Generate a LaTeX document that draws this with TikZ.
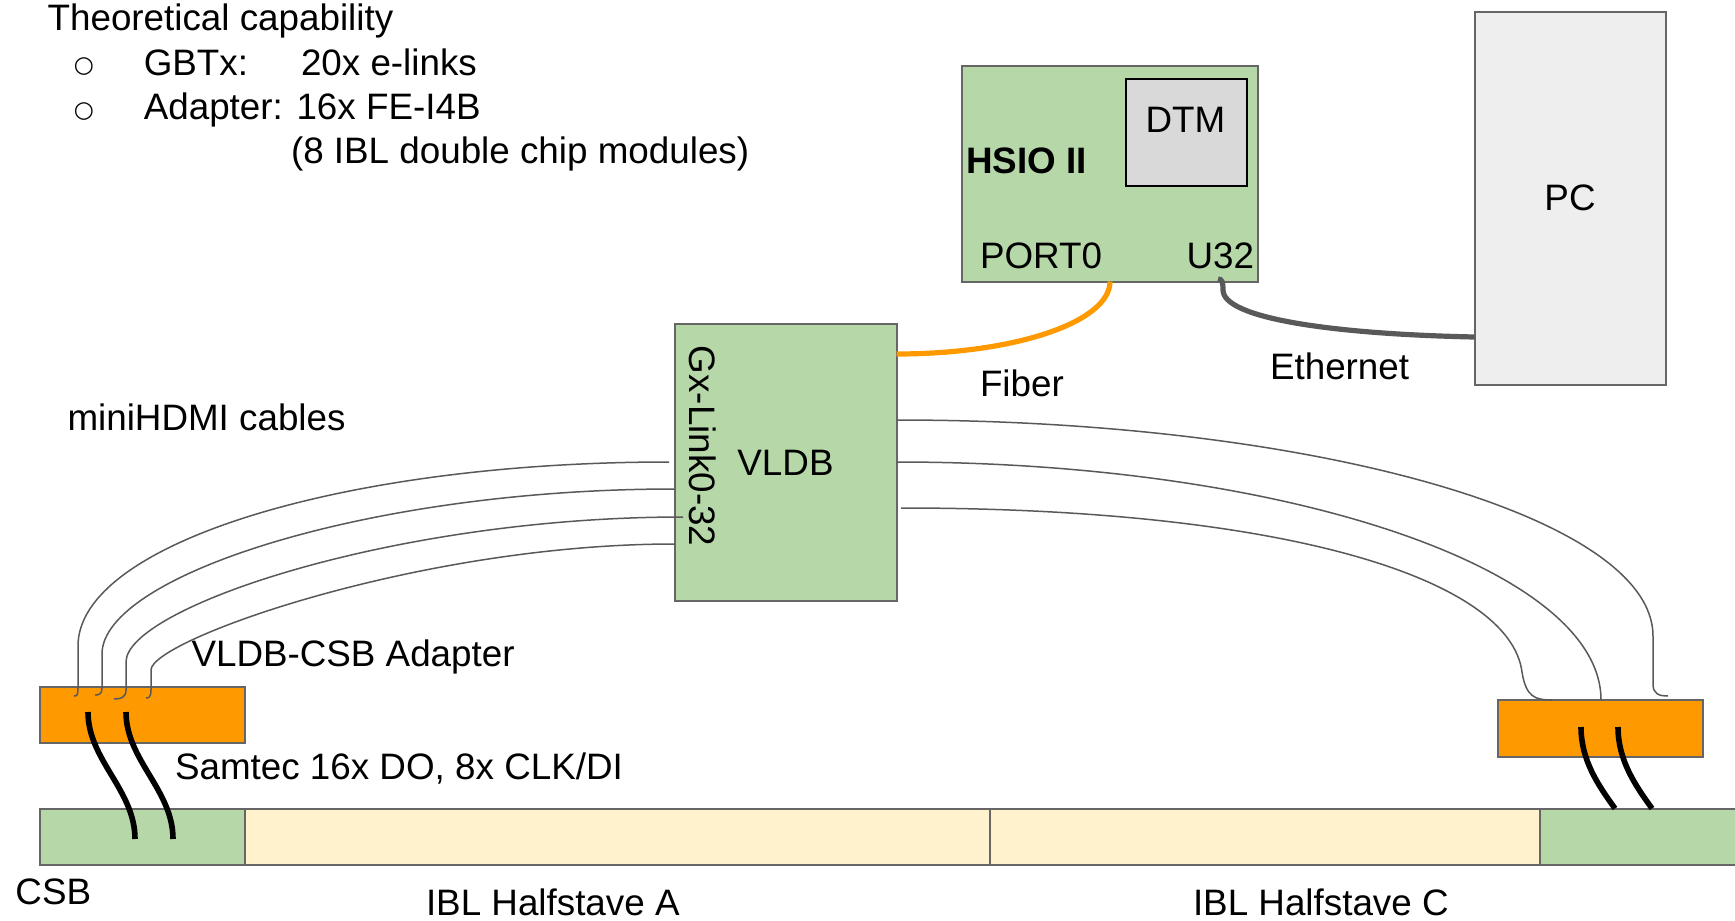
\documentclass[tikz,border=0pt]{standalone}
\usepackage{fontspec}
\setmainfont{Liberation Sans}
\newfontfamily\symfont{DejaVu Sans}
\definecolor{boxgreen}{HTML}{B6D7A8}
\definecolor{boxorange}{HTML}{FF9900}
\definecolor{stavecream}{HTML}{FFF2CC}
\definecolor{dtmgray}{HTML}{D9D9D9}
\definecolor{pcgray}{HTML}{EEEEEE}
\definecolor{edgegray}{HTML}{666666}
\definecolor{cablegray}{HTML}{595959}
\begin{document}
\begin{tikzpicture}[x=0.5pt,y=-0.5pt,
  every node/.style={inner sep=0pt, outer sep=0pt},
  txt/.style={font=\fontsize{18.4}{22}\selectfont, text=black},
  boldtxt/.style={font=\fontsize{18.4}{22}\selectfont\bfseries, text=black},
  bul/.style={font=\symfont\fontsize{11.5}{13}\selectfont, text=black},
  box/.style 2 args={draw=edgegray, line width=1pt, anchor=north west,
    minimum width=#1*0.5pt, minimum height=#2*0.5pt},
  cable/.style={draw=cablegray, line width=0.75pt},
  samtec/.style={draw=black, line width=2.8pt},
  fiber/.style={draw=boxorange, line width=2.6pt},
  ether/.style={draw=cablegray, line width=2.6pt}]
\useasboundingbox (0,0) rectangle (1735,921);
\clip (0,0) rectangle (1735,921);

% ---------- boxes ----------
\node[box={296}{215.5}, fill=boxgreen] (hsio) at (961.5,66) {};
\node[box={121}{107}, fill=dtmgray, draw=black] (dtm) at (1126,79) {};
\node[box={191}{372.5}, fill=pcgray, txt] (pc) at (1474.5,12) {PC};
\node[box={222}{277}, fill=boxgreen, txt] (vldb) at (674.5,324) {VLDB};
\node[box={205.5}{56.5}, fill=boxorange] (adl) at (39.5,686.5) {};
\node[box={205}{56.5}, fill=boxorange] (adr) at (1498,700) {};
\node[box={205.5}{56}, fill=boxgreen] (csbl) at (39.5,808.5) {};
\node[box={745}{56}, fill=stavecream] (hsa) at (245,808.5) {};
\node[box={550}{56}, fill=stavecream] (hsc) at (990,808.5) {};
\node[box={210}{56}, fill=boxgreen] (csbr) at (1540,808.5) {};

% ---------- texts ----------
\node[txt, anchor=base west] (theo) at (47.6,31) {Theoretical capability};
\node[bul] (b1) at (84,67) {○};
\node[txt, anchor=base west] (gbtx) at (143.8,75) {GBTx:};
\node[txt, anchor=base west] (gbtxv) at (301,75) {20x e-links};
\node[bul] (b2) at (84,111.5) {○};
\node[txt, anchor=base west] (adap) at (143.8,119) {Adapter: 16x FE-I4B};
\node[txt, anchor=base west] (ibl8) at (291,163) {(8 IBL double chip modules)};

\node[boldtxt, anchor=base west] (hsiot) at (966,173) {HSIO II};
\node[txt, anchor=base] (dtmt) at (1185.5,132.8) {DTM};
\node[txt, anchor=base west] (port0) at (980,268) {PORT0};
\node[txt, anchor=base east] (u32) at (1254,268) {U32};
\node[txt, rotate=-90] (gx) at (703,446) {Gx-Link0-32};

\node[txt, anchor=base west] (fibt) at (980,396) {Fiber};
\node[txt, anchor=base west] (etht) at (1270,379.5) {Ethernet};
\node[txt, anchor=base west] (mini) at (67.5,430) {miniHDMI cables};
\node[txt, anchor=base west] (vcsb) at (191.5,666.5) {VLDB-CSB Adapter};
\node[txt, anchor=base west] (samt) at (175,779.5) {Samtec 16x DO, 8x CLK/DI};
\node[txt, anchor=base west] (csbt) at (15.5,904.5) {CSB};
\node[txt, anchor=base west] (hsat) at (426,915.5) {IBL Halfstave A};
\node[txt, anchor=base west] (hsct) at (1193,915.5) {IBL Halfstave C};

% ---------- connector end points ----------
\coordinate (fibA) at (1110,281.5);
\coordinate (fibB) at (896.5,354);
\coordinate (ethA) at (1218,279);
\coordinate (ethB) at (1474.5,337);

\coordinate (L1s) at (669,462);   \coordinate (L1e) at (74,696);
\coordinate (L2s) at (674.5,489); \coordinate (L2e) at (95,695);
\coordinate (L3s) at (683,517);   \coordinate (L3e) at (114,699);
\coordinate (L4s) at (674.5,544); \coordinate (L4e) at (146,698);

\coordinate (R1s) at (896.5,420); \coordinate (R1e) at (1668,696);
\coordinate (R2s) at (896.5,462); \coordinate (R2e) at (1601,700);
\coordinate (R3s) at (901,508);   \coordinate (R3e) at (1552,700);

\coordinate (S1s) at (88,712);    \coordinate (S1e) at (135,839);
\coordinate (S2s) at (126,712);   \coordinate (S2e) at (173,839);
\coordinate (S3s) at (1581,727);  \coordinate (S3e) at (1615,808.5);
\coordinate (S4s) at (1618,727);  \coordinate (S4e) at (1652,808.5);

% ---------- fiber / ethernet ----------
\draw[fiber] (fibA) .. controls (1110,322) and (1015,354) .. (fibB);
\draw[ether] (ethA) .. controls (1222,279) and (1223,282) .. (1223,290)
  .. controls (1223,318) and (1330,334) .. (ethB);

% ---------- miniHDMI cables, left ----------
\draw[cable] (L1s) .. controls (342,462) and (78,544) .. (78,646) -- (78,688)
  .. controls (78,695) and (77,696) .. (L1e);
\draw[cable] (L2s) .. controls (368,489) and (102,576) .. (102,654) -- (102,688)
  .. controls (102,694) and (99,695) .. (L2e);
\draw[cable] (L3s) .. controls (394,517) and (126,608) .. (126,662) -- (126,690)
  .. controls (126,698) and (120,699) .. (L3e);
\draw[cable] (L4s) .. controls (420,544) and (151,640) .. (151,670) -- (151,690)
  .. controls (151,697) and (149,698) .. (L4e);

% ---------- miniHDMI cables, right ----------
\draw[cable] (R1s) .. controls (1314,420) and (1653,517) .. (1653,636) -- (1653,684)
  .. controls (1653,694) and (1659,696) .. (R1e);
\draw[cable] (R2s) .. controls (1286,462) and (1601,569) .. (R2e);
\draw[cable] (R3s) .. controls (1290,508) and (1510,580) .. (1522,672)
  .. controls (1526,697) and (1535,700) .. (R3e);

% ---------- Samtec cables ----------
\draw[samtec] (S1s) .. controls (88,760) and (135,790) .. (S1e);
\draw[samtec] (S2s) .. controls (126,760) and (173,790) .. (S2e);
\draw[samtec] (S3s) .. controls (1581,760) and (1598,785) .. (S3e);
\draw[samtec] (S4s) .. controls (1618,760) and (1635,785) .. (S4e);
\end{tikzpicture}
\end{document}
